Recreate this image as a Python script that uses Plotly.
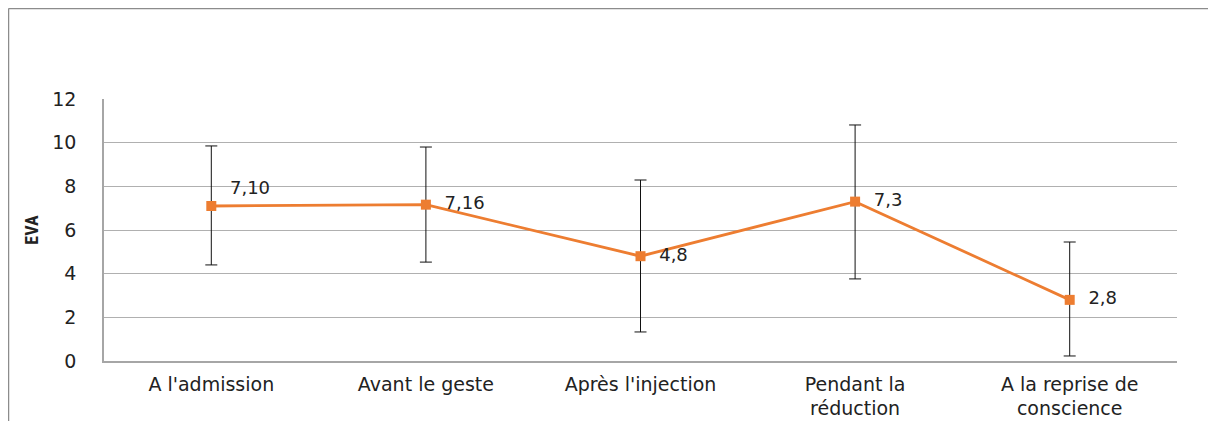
import plotly.graph_objects as go

stages = ["A l'admission", "Avant le geste", "Après l'injection",
          "Pendant la<br>réduction", "A la reprise de<br>conscience"]
eva = [7.10, 7.16, 4.8, 7.3, 2.8]
eva_labels = ["7,10", "7,16", "4,8", "7,3", "2,8"]
err_plus = [2.75, 2.64, 3.49, 3.51, 2.65]
err_minus = [2.70, 2.63, 3.47, 3.54, 2.57]
y_ticks = [0, 2, 4, 6, 8, 10, 12]

ORANGE = "#ED7D31"
FONT = "DejaVu Sans"

# the page body has an 8px margin, so the figure is 8px smaller than the window
W, H = 1208, 413
L, R, T, B = 96, 39, 91, 60
pw, ph = W - L - R, H - T - B

fig = go.Figure()
fig.add_trace(go.Scatter(
    x=stages, y=eva, mode="lines+markers+text",
    text=["  " + t for t in eva_labels],
    textposition=["top right", "middle right", "middle right", "middle right", "middle right"],
    textfont=dict(family=FONT, size=18, color="#222"),
    line=dict(color=ORANGE, width=2.8),
    marker=dict(symbol="square", size=10, color=ORANGE),
    error_y=dict(type="data", symmetric=False, array=err_plus, arrayminus=err_minus,
                 color="#111", thickness=1, width=6),
    showlegend=False,
    cliponaxis=False,
))

fx = -(L - 0.5) / pw
fy = 1 + (T - 0.5) / ph
fig.update_layout(
    width=W, height=H,
    margin=dict(l=L, r=R, t=T, b=B),
    paper_bgcolor="white", plot_bgcolor="white",
    font=dict(family=FONT, size=18, color="#222"),
    shapes=[
        dict(type="line", xref="paper", yref="paper", x0=fx, x1=1.1, y0=fy, y1=fy,
             line=dict(color="#8c8c8c", width=1.5)),
        dict(type="line", xref="paper", yref="paper", x0=fx, x1=fx, y0=fy, y1=-0.3,
             line=dict(color="#8c8c8c", width=1.5)),
    ],
)
fig.update_xaxes(
    range=[-0.5, len(stages) - 0.5],
    showline=True, linecolor="#a6a6a6", linewidth=1.5, automargin=False,
    showgrid=False, ticks="", tickfont=dict(family=FONT, size=19, color="#222"),
    ticklabelstandoff=5,
)
fig.update_yaxes(
    range=[0, 12], tickvals=y_ticks, automargin=False,
    showline=True, linecolor="#a6a6a6", linewidth=1.5,
    showgrid=True, gridcolor="#b0b0b0", gridwidth=1.2,
    zeroline=False, ticks="", ticklabelstandoff=22,
    tickfont=dict(family=FONT, size=19, color="#222"),
    title=dict(text="<b>EVA</b>", font=dict(family="Liberation Sans Narrow, Roboto Condensed, Liberation Sans", size=18, color="#222"),
               standoff=9),
)

fig.write_html("out.html")
